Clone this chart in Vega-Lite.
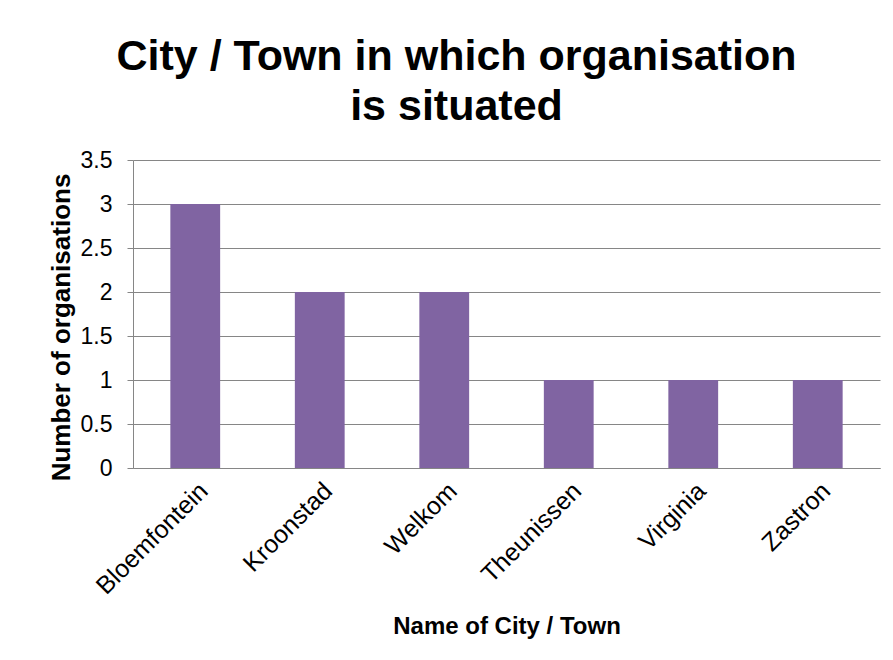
{
  "$schema": "https://vega.github.io/schema/vega-lite/v6.json",
  "width": 747,
  "height": 308,
  "autosize": {"type": "none"},
  "padding": {"left": 133, "top": 160, "right": 13, "bottom": 192},
  "background": "white",
  "title": {
    "text": ["City / Town in which organisation", "is situated"],
    "font": "Liberation Sans",
    "fontSize": 43,
    "fontWeight": "bold",
    "color": "#000000",
    "lineHeight": 50,
    "anchor": "middle",
    "dx": -50,
    "offset": 20
  },
  "data": {
    "values": [
      {"city": "Bloemfontein", "count": 3},
      {"city": "Kroonstad", "count": 2},
      {"city": "Welkom", "count": 2},
      {"city": "Theunissen", "count": 1},
      {"city": "Virginia", "count": 1},
      {"city": "Zastron", "count": 1}
    ]
  },
  "mark": {"type": "bar", "color": "#8064A2"},
  "encoding": {
    "x": {
      "field": "city",
      "type": "nominal",
      "sort": null,
      "scale": {"paddingInner": 0.6, "paddingOuter": 0.3},
      "axis": {
        "title": "Name of City / Town",
        "titleFont": "Liberation Sans",
        "titleFontSize": 24,
        "titleFontWeight": "bold",
        "titleColor": "#000000",
        "titlePadding": 16,
        "labelFont": "Liberation Sans",
        "labelFontSize": 25,
        "labelColor": "#000000",
        "labelAngle": -45,
        "labelPadding": 10,
        "ticks": false,
        "domainColor": "#868686",
        "domainWidth": 1
      }
    },
    "y": {
      "field": "count",
      "type": "quantitative",
      "scale": {"domain": [0, 3.5], "nice": false},
      "axis": {
        "title": "Number of organisations",
        "titleFont": "Liberation Sans",
        "titleFontSize": 26,
        "titleFontWeight": "bold",
        "titleColor": "#000000",
        "titlePadding": 6,
        "titleY": 167,
        "values": [0, 0.5, 1, 1.5, 2, 2.5, 3, 3.5],
        "format": "~g",
        "labelFont": "Liberation Sans",
        "labelFontSize": 23,
        "labelColor": "#000000",
        "labelPadding": 15,
        "tickSize": 6,
        "tickColor": "#868686",
        "domainColor": "#868686",
        "gridColor": "#868686",
        "grid": true
      }
    }
  },
  "config": {
    "view": {"stroke": null},
    "axis": {"gridOpacity": 1}
  }
}
